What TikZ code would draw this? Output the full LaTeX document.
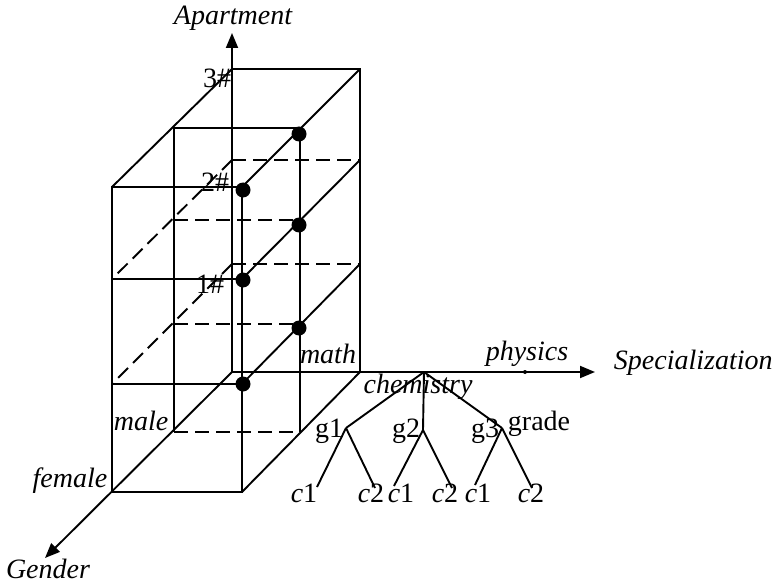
\documentclass[tikz,border=0pt]{standalone}
\usepackage{fontspec}
\setmainfont{Liberation Serif}
\usetikzlibrary{arrows.meta}
\begin{document}
\begin{tikzpicture}[x=1pt,y=-1pt,line width=1.9pt,
  hid/.style={dash pattern=on 14pt off 7pt},
  axis/.style={-{Triangle[length=15pt,width=12pt]}},
  lab/.style={font=\fontsize{28}{32}\selectfont\itshape,inner sep=0pt,anchor=base},
  rlab/.style={font=\fontsize{28}{32}\selectfont,inner sep=0pt,anchor=base},
  dot/.style={circle,fill=black,minimum size=15pt,inner sep=0pt},
  tree/.style={line width=1.9pt}]
\useasboundingbox (0,0) rectangle (774,583);

% axes
\coordinate (O) at (232,372);
\coordinate (Atip) at (232,33);
\coordinate (Stip) at (595,372);
\coordinate (Gtip) at (45,558);
\draw[axis] (O) -- (Atip);
\draw[axis] (O) -- (Stip);
\draw[axis] (O) -- (Gtip);

% back plane
\draw (232,69) -- (360,69) -- (360,372);
\draw[hid] (232,160) -- (360,160);
\draw[hid] (232,264) -- (360,264);
% middle plane (male)
\draw (174,432) -- (174,128) -- (300,128) -- (300,432);
\draw[hid] (174,220) -- (300,220);
\draw[hid] (174,324) -- (300,324);
\draw[hid] (174,432) -- (300,432);
% front plane (female)
\draw (112,187) rectangle (242,492);
\draw (112,279) -- (242,279);
\draw (112,384) -- (242,384);
% depth edges
\draw (232,69) -- (112,187);
\draw (360,69) -- (242,187);
\draw (360,160) -- (242,279);
\draw (360,264) -- (242,384);
\draw (360,372) -- (242,492);
\draw[hid] (232,160) -- (112,279);
\draw[hid] (232,264) -- (112,384);

% dots
\node[dot] (d1) at (299,134) {};
\node[dot] (d2) at (243,190) {};
\node[dot] (d3) at (299,225) {};
\node[dot] (d4) at (243,280) {};
\node[dot] (d5) at (299,328) {};
\node[dot] (d6) at (243,384) {};
\fill (525,372) circle (2pt);

% axis labels
\node[lab] (lA) at (233,25) {Apartment};
\node[lab,anchor=base west] (lS) at (613,369) {Specialization};
\node[lab] (lG) at (48,578) {Gender};
\node[rlab,anchor=base east] (l3) at (232,88) {3\#};
\node[rlab,anchor=base east] (l2) at (230,192) {2\#};
\node[rlab,anchor=base east] (l1) at (225,293) {1\#};
\node[lab] (lmale) at (141,430) {male};
\node[lab] (lfemale) at (70,487) {female};
\node[lab] (lmath) at (328,363) {math};
\node[lab] (lphys) at (527,360) {physics};
\node[lab] (lchem) at (418,393) {chemistry};

% tree
\coordinate (root) at (424,372);
\coordinate (g1) at (346,428);
\coordinate (g2) at (423,430);
\coordinate (g3) at (502,428);
\coordinate (a1) at (317,487);
\coordinate (a2) at (375,488);
\coordinate (b1) at (394,486);
\coordinate (b2) at (452,488);
\coordinate (e1) at (475,485);
\coordinate (e2) at (532,488);
\draw[tree] (root) -- (g1);
\draw[tree] (root) -- (g2);
\draw[tree] (root) -- (g3);
\draw[tree] (g1) -- (a1);
\draw[tree] (g1) -- (a2);
\draw[tree] (g2) -- (b1);
\draw[tree] (g2) -- (b2);
\draw[tree] (g3) -- (e1);
\draw[tree] (g3) -- (e2);
\node[rlab,anchor=base east] (tg1) at (344,437) {g1};
\node[rlab,anchor=base east] (tg2) at (421,437) {g2};
\node[rlab,anchor=base east] (tg3) at (500,437) {g3};
\node[rlab,anchor=base west] (tgr) at (507,430) {grade};
\node[rlab] (c11) at (304,502) {\textit{c}1};
\node[rlab] (c12) at (371,502) {\textit{c}2};
\node[rlab] (c21) at (401,502) {\textit{c}1};
\node[rlab] (c22) at (445,502) {\textit{c}2};
\node[rlab] (c31) at (478,502) {\textit{c}1};
\node[rlab] (c32) at (531,502) {\textit{c}2};
\end{tikzpicture}
\end{document}
